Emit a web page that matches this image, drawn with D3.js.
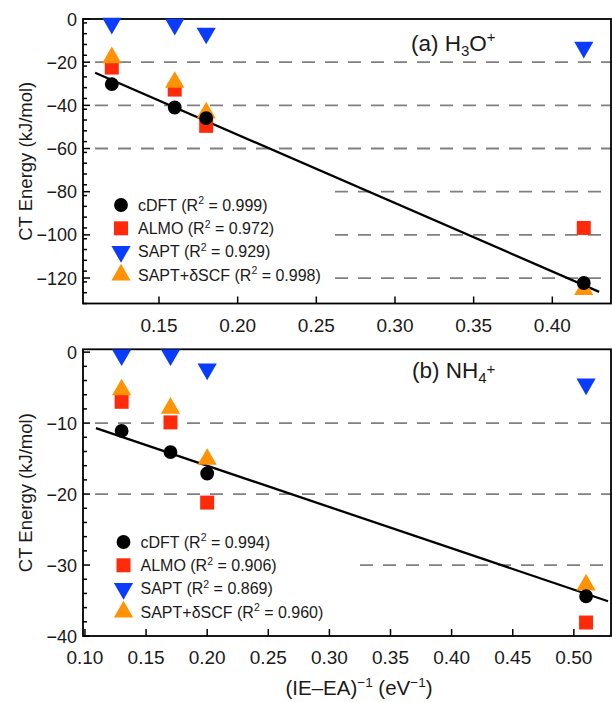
<!DOCTYPE html>
<html>
<head>
<meta charset="utf-8">
<script src="https://cdn.jsdelivr.net/npm/d3@7"></script>
<style>
  body { margin: 0; background: #fff; }
  svg { font-family: "Liberation Sans", Arial, Helvetica, sans-serif; }
</style>
</head>
<body>
<div id="vis"></div>
<script>
// ---- data ----
const METHODS = ["cDFT", "ALMO", "SAPT", "SAPT+δSCF"];

// (a) H3O+
const X_H3O = [0.12, 0.16, 0.18, 0.42];
const CDFT_H3O = [-30.2, -41.0, -45.9, -122.3];
const ALMO_H3O = [-22.5, -32.7, -49.5, -96.8];
const SAPT_H3O = [-2.0, -2.5, -6.6, -13.1];
const DSCF_H3O = [-17.9, -29.3, -43.5, -125.3];
const R2_H3O = ["0.999", "0.972", "0.929", "0.998"];
const FIT_H3O = [[0.1094, -24.9], [0.4298, -126.4]];
const XTICKS_H3O = [0.15, 0.20, 0.25, 0.30, 0.35, 0.40];
const YTICKS_H3O = [0, -20, -40, -60, -80, -100, -120];
const GRID_H3O = [-20, -40, -60, -80, -100, -120];

// (b) NH4+
const X_NH4 = [0.13, 0.17, 0.20, 0.51];
const CDFT_NH4 = [-11.1, -14.1, -17.1, -34.4];
const ALMO_NH4 = [-7.0, -9.9, -21.2, -38.1];
const SAPT_NH4 = [-0.4, -0.4, -2.4, -4.5];
const DSCF_NH4 = [-5.3, -7.9, -15.1, -32.8];
const R2_NH4 = ["0.994", "0.906", "0.869", "0.960"];
const FIT_NH4 = [[0.109, -10.7], [0.528, -35.1]];
const XTICKS_NH4 = [0.10, 0.15, 0.20, 0.25, 0.30, 0.35, 0.40, 0.45, 0.50];
const YTICKS_NH4 = [0, -10, -20, -30, -40];
const GRID_NH4 = [-10, -20, -30];

// ---- frame ----
const FRAME_WIDTH = 612;
const FRAME_HEIGHT = 702;
const LEFT = 83, RIGHT = 611;

const COLORS = ["#000000", "#ff2a0a", "#0a3cff", "#ff9205"];
const SIZES = [150, 196, 160, 160];

const SVG = d3.select("#vis")
  .append("svg")
    .attr("width", FRAME_WIDTH)
    .attr("height", FRAME_HEIGHT);

function markerPath(i) {
  if (i === 0) return d3.symbol(d3.symbolCircle, SIZES[i])();
  if (i === 1) return d3.symbol(d3.symbolSquare, SIZES[i])();
  return d3.symbol(d3.symbolTriangle, SIZES[i])();
}
function markerRot(i) { return i === 2 ? " rotate(180)" : ""; }

function drawPanel(p) {
  const X = d3.scaleLinear().domain(p.xDomain).range([LEFT, RIGHT]);
  const Y = d3.scaleLinear().domain(p.yDomain).range([p.bottom, p.top]);
  const g = SVG.append("g");

  // dashed grid lines
  g.selectAll(".grid")
    .data(p.grid)
    .enter()
    .append("line")
      .attr("x1", (d) => { return d <= p.partialBelow ? p.partialStart : LEFT + 12; })
      .attr("x2", RIGHT)
      .attr("y1", (d) => { return Y(d); })
      .attr("y2", (d) => { return Y(d); })
      .attr("stroke", "#808080")
      .attr("stroke-width", 1.8)
      .attr("stroke-dasharray", "13,10");

  // left axis, inward ticks
  const yMinor = d3.range(p.yDomain[0], 0.001, p.minorStep)
                   .filter((v) => { return !p.yTicks.includes(v); });
  g.selectAll(".yminor")
    .data(yMinor)
    .enter()
    .append("line")
      .attr("x1", LEFT).attr("x2", LEFT + 4)
      .attr("y1", (d) => { return Y(d); })
      .attr("y2", (d) => { return Y(d); })
      .attr("stroke", "#000").attr("stroke-width", 1.5);
  g.selectAll(".ymajor")
    .data(p.yTicks)
    .enter()
    .append("line")
      .attr("x1", LEFT).attr("x2", LEFT + 7)
      .attr("y1", (d) => { return Y(d); })
      .attr("y2", (d) => { return Y(d); })
      .attr("stroke", "#000").attr("stroke-width", 1.5);
  g.selectAll(".ylab")
    .data(p.yTicks)
    .enter()
    .append("text")
      .attr("x", LEFT - 6)
      .attr("y", (d) => { return Y(d) + 6.5; })
      .attr("text-anchor", "end")
      .attr("font-size", "18px")
      .attr("fill", "#1a1a1a")
      .text((d) => { return d < 0 ? "\u2212" + Math.abs(d) : d; });

  // bottom axis
  g.selectAll(".xmajor")
    .data(p.xTicks)
    .enter()
    .append("line")
      .attr("x1", (d) => { return X(d); })
      .attr("x2", (d) => { return X(d); })
      .attr("y1", p.bottom).attr("y2", p.bottom - 7)
      .attr("stroke", "#000").attr("stroke-width", 1.5);
  g.selectAll(".xlab")
    .data(p.xTicks)
    .enter()
    .append("text")
      .attr("x", (d) => { return X(d); })
      .attr("y", p.bottom + 28)
      .attr("text-anchor", "middle")
      .attr("font-size", "19px")
      .attr("fill", "#1a1a1a")
      .text((d) => { return d3.format(".2f")(d); });

  // frame
  g.append("rect")
    .attr("x", LEFT).attr("y", p.top)
    .attr("width", RIGHT - LEFT).attr("height", p.bottom - p.top)
    .attr("fill", "none")
    .attr("stroke", "#000")
    .attr("stroke-width", 1.8);

  // y label
  g.append("text")
    .attr("transform", "translate(32," + ((p.top + p.bottom) / 2) + ") rotate(-90)")
    .attr("text-anchor", "middle")
    .attr("font-size", "18.5px")
    .attr("fill", "#1a1a1a")
    .text("CT Energy (kJ/mol)");

  // fit line
  g.append("path")
    .datum(p.fit)
    .attr("d", d3.line().x((d) => { return X(d[0]); }).y((d) => { return Y(d[1]); }))
    .attr("stroke", "#000")
    .attr("stroke-width", 2.3)
    .attr("fill", "none");

  // markers: ALMO, SAPT, SAPT+dSCF, then cDFT on top
  [1, 2, 3, 0].forEach((m) => {
    g.selectAll(".pt" + m)
      .data(p.x.map((x, i) => { return [x, p.series[m][i]]; }))
      .enter()
      .append("path")
        .attr("d", markerPath(m))
        .attr("transform", (d) => {
          return "translate(" + X(d[0]) + "," + Y(d[1]) + ")" + markerRot(m);
        })
        .attr("fill", COLORS[m]);
  });

  // legend
  METHODS.forEach((name, i) => {
    const yy = p.legendY + i * 23.3;
    g.append("path")
      .attr("d", markerPath(i))
      .attr("transform", "translate(" + p.legendX + "," + yy + ")" + markerRot(i))
      .attr("fill", COLORS[i]);
    const t = g.append("text")
      .attr("x", p.legendX + 17)
      .attr("y", yy + 5.7)
      .attr("font-size", "16px")
      .attr("fill", "#1a1a1a");
    t.append("tspan").text(name + " (R");
    t.append("tspan").attr("font-size", "10.5px").attr("dy", -6.5).text("2");
    t.append("tspan").attr("dy", 6.5).text(" = " + p.r2[i] + ")");
  });

  // panel label
  const lab = g.append("text")
    .attr("x", p.labelX)
    .attr("y", p.labelY)
    .attr("font-size", "22.5px")
    .attr("fill", "#1a1a1a");
  lab.append("tspan").text(p.label[0]);
  lab.append("tspan").attr("font-size", "15px").attr("dy", 5).text(p.label[1]);
  lab.append("tspan").attr("dy", -5).text(p.label[2]);
  lab.append("tspan").attr("font-size", "15px").attr("dy", -9).text("+");
}

drawPanel({
  x: X_H3O, series: [CDFT_H3O, ALMO_H3O, SAPT_H3O, DSCF_H3O], r2: R2_H3O,
  fit: FIT_H3O, xTicks: XTICKS_H3O, yTicks: YTICKS_H3O, grid: GRID_H3O,
  xDomain: [0.1017, 0.4373], yDomain: [-131.8, 0], minorStep: 5,
  top: 19, bottom: 303.5, partialBelow: -80, partialStart: 335,
  legendX: 121, legendY: 205, labelX: 411, labelY: 51,
  label: ["(a) H", "3", "O"]
});

drawPanel({
  x: X_NH4, series: [CDFT_NH4, ALMO_NH4, SAPT_NH4, DSCF_NH4], r2: R2_NH4,
  fit: FIT_NH4, xTicks: XTICKS_NH4, yTicks: YTICKS_NH4, grid: GRID_NH4,
  xDomain: [0.0984, 0.5304], yDomain: [-40, 0.4], minorStep: 2,
  top: 349.3, bottom: 636, partialBelow: -30, partialStart: 360,
  legendX: 123.5, legendY: 542, labelX: 412, labelY: 378,
  label: ["(b) NH", "4", ""]
});

// x axis title
const XT = SVG.append("text")
  .attr("x", 359)
  .attr("y", 695)
  .attr("text-anchor", "middle")
  .attr("font-size", "20.5px")
  .attr("fill", "#1a1a1a");
XT.append("tspan").text("(IE\u2013EA)");
XT.append("tspan").attr("font-size", "13.5px").attr("dy", -8).text("\u22121");
XT.append("tspan").attr("dy", 8).text(" (eV");
XT.append("tspan").attr("font-size", "13.5px").attr("dy", -8).text("\u22121");
XT.append("tspan").attr("dy", 8).text(")");
</script>
</body>
</html>
